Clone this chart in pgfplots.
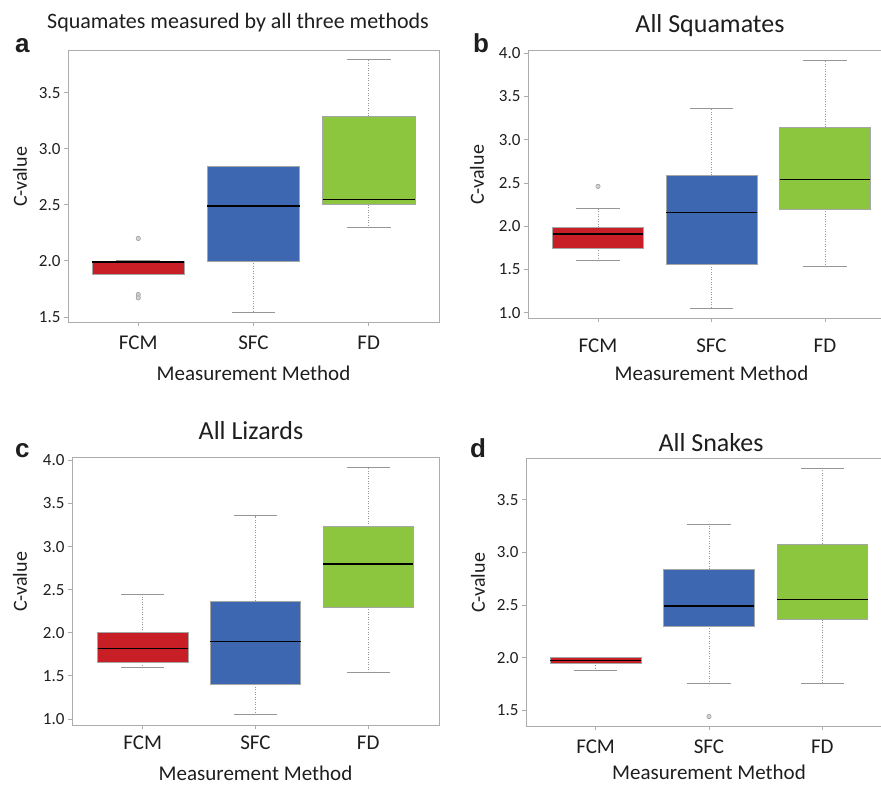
\documentclass[border=0pt]{standalone}
\usepackage{pgfplots}
\pgfplotsset{compat=1.18}
\usepgfplotslibrary{statistics}
\usepackage{fontspec}
\setmainfont{Carlito}
\newfontfamily\letterfont{Liberation Sans}
\definecolor{cRed}{RGB}{200,30,38}
\definecolor{cBlue}{RGB}{61,103,176}
\definecolor{cGreen}{RGB}{140,198,63}
\definecolor{frameGray}{RGB}{172,172,172}
\definecolor{whGray}{RGB}{150,150,150}
\definecolor{txt}{RGB}{30,30,30}

\pgfplotsset{
  panel/.style={
    scale only axis,
    axis line style={frameGray, line width=0.9pt},
    xtick={1,2,3}, xticklabels={FCM,SFC,FD},
    tick align=outside, xtick pos=bottom, ytick pos=left,
    major tick length=4pt,
    every tick/.style={frameGray, line width=0.8pt},
    /pgf/number format/assume math mode=true,
    /pgf/number format/fixed, /pgf/number format/fixed zerofill, /pgf/number format/precision=1,
    yticklabel style={font=\fontsize{17}{20}\selectfont, text=txt},
    xticklabel style={font=\fontsize{21}{25}\selectfont, text=txt},
    xlabel={Measurement Method}, ylabel={C-value},
    xlabel style={font=\fontsize{21}{25}\selectfont, text=txt, anchor=base},
    ylabel style={font=\fontsize{20}{24}\selectfont, text=txt, anchor=center},
    boxplot/draw direction=y,
  },
  bx/.style={
    mark=*, mark size=2.2pt, mark options={draw=whGray, fill=gray!35, line width=0.5pt},
    boxplot/box extend=0.8,
    boxplot/whisker extend=0.38,
    boxplot/every box/.style={draw=black!35, line width=0.6pt, fill=#1},
    boxplot/every median/.style={draw=black, line width=1.3pt},
    boxplot/draw/lower whisker/.code={
      \draw[whGray, line width=0.8pt, dash pattern=on 1pt off 1.5pt]
        (boxplot box cs:\pgfplotsboxplotvalue{lower quartile},0.5) --
        (boxplot box cs:\pgfplotsboxplotvalue{lower whisker},0.5);
      \draw[whGray, line width=0.9pt]
        (boxplot whisker cs:\pgfplotsboxplotvalue{lower whisker},0) --
        (boxplot whisker cs:\pgfplotsboxplotvalue{lower whisker},1);
    },
    boxplot/draw/upper whisker/.code={
      \draw[whGray, line width=0.8pt, dash pattern=on 1pt off 1.5pt]
        (boxplot box cs:\pgfplotsboxplotvalue{upper quartile},0.5) --
        (boxplot box cs:\pgfplotsboxplotvalue{upper whisker},0.5);
      \draw[whGray, line width=0.9pt]
        (boxplot whisker cs:\pgfplotsboxplotvalue{upper whisker},0) --
        (boxplot whisker cs:\pgfplotsboxplotvalue{upper whisker},1);
    },
  },
}

\begin{document}
\begin{tikzpicture}
\useasboundingbox (0,0) rectangle (881pt,785pt);
\clip (0,0) rectangle (881pt,785pt);

% ---------------- panel a
\begin{axis}[panel, at={(68pt,463pt)}, anchor=south west,
  width=371pt, height=272pt,
  xmin=0.39, xmax=3.61, ymin=1.455, ymax=3.88,
  ytick={1.5,2,2.5,3,3.5},
  xticklabel style={yshift=-6.5pt},
  xlabel style={at={([yshift=-59pt]axis description cs:0.5,0)}},
  ylabel style={at={([xshift=-48pt,yshift=9pt]axis description cs:0,0.5)}}]
\addplot[bx=cRed, boxplot prepared={draw position=1, lower whisker=1.88, lower quartile=1.88, median=1.99, upper quartile=2.0, upper whisker=2.0}]
  table[row sep=\\, y index=0] {data\\ 2.2\\ 1.70\\ 1.67\\};
\addplot[bx=cBlue, boxplot prepared={draw position=2, lower whisker=1.54, lower quartile=2.0, median=2.49, upper quartile=2.84, upper whisker=2.84}]
  coordinates {};
\addplot[bx=cGreen, boxplot prepared={draw position=3, lower whisker=2.30, lower quartile=2.50, median=2.55, upper quartile=3.29, upper whisker=3.80}]
  coordinates {};
\end{axis}

% ---------------- panel b
\begin{axis}[panel, at={(528pt,467pt)}, anchor=south west,
  width=367pt, height=268pt,
  xmin=0.383, xmax=3.617, ymin=0.94, ymax=4.035,
  ytick={1,1.5,2,2.5,3,3.5,4},
  xticklabel style={yshift=-13.5pt},
  xlabel style={at={([yshift=-63pt]axis description cs:0.5,0)}},
  ylabel style={at={([xshift=-51pt,yshift=9pt]axis description cs:0,0.5)}}]
\addplot[bx=cRed, boxplot prepared={draw position=1, lower whisker=1.60, lower quartile=1.75, median=1.91, upper quartile=1.99, upper whisker=2.20}]
  table[row sep=\\, y index=0] {data\\ 2.46\\};
\addplot[bx=cBlue, boxplot prepared={draw position=2, lower whisker=1.05, lower quartile=1.56, median=2.16, upper quartile=2.59, upper whisker=3.36}]
  coordinates {};
\addplot[bx=cGreen, boxplot prepared={draw position=3, lower whisker=1.54, lower quartile=2.20, median=2.54, upper quartile=3.14, upper whisker=3.92}]
  coordinates {};
\end{axis}

% ---------------- panel c
\begin{axis}[panel, at={(72pt,60pt)}, anchor=south west,
  width=367pt, height=268pt,
  xmin=0.372, xmax=3.628, ymin=0.93, ymax=4.04,
  ytick={1,1.5,2,2.5,3,3.5,4},
  xticklabel style={yshift=-3.5pt},
  xlabel style={at={([yshift=-55pt]axis description cs:0.5,0)}},
  ylabel style={at={([xshift=-52pt,yshift=9pt]axis description cs:0,0.5)}}]
\addplot[bx=cRed, boxplot prepared={draw position=1, lower whisker=1.60, lower quartile=1.66, median=1.82, upper quartile=2.0, upper whisker=2.45}]
  coordinates {};
\addplot[bx=cBlue, boxplot prepared={draw position=2, lower whisker=1.05, lower quartile=1.40, median=1.90, upper quartile=2.37, upper whisker=3.36}]
  coordinates {};
\addplot[bx=cGreen, boxplot prepared={draw position=3, lower whisker=1.54, lower quartile=2.30, median=2.80, upper quartile=3.23, upper whisker=3.92}]
  coordinates {};
\end{axis}

% ---------------- panel d
\begin{axis}[panel, at={(526pt,59pt)}, anchor=south west,
  width=366pt, height=268pt,
  xmin=0.386, xmax=3.614, ymin=1.35, ymax=3.895,
  ytick={1.5,2,2.5,3,3.5},
  xticklabel style={yshift=-6.5pt},
  xlabel style={at={([yshift=-53pt]axis description cs:0.5,0)}},
  ylabel style={at={([xshift=-48pt,yshift=9pt]axis description cs:0,0.5)}}]
\addplot[bx=cRed, boxplot prepared={draw position=1, lower whisker=1.88, lower quartile=1.95, median=1.97, upper quartile=2.0, upper whisker=2.0}]
  coordinates {};
\addplot[bx=cBlue, boxplot prepared={draw position=2, lower whisker=1.75, lower quartile=2.30, median=2.49, upper quartile=2.84, upper whisker=3.26}]
  table[row sep=\\, y index=0] {data\\ 1.44\\};
\addplot[bx=cGreen, boxplot prepared={draw position=3, lower whisker=1.75, lower quartile=2.36, median=2.55, upper quartile=3.08, upper whisker=3.80}]
  coordinates {};
\end{axis}

% titles
\node[anchor=base, inner sep=0, text=txt, font=\fontsize{22}{26}\selectfont] at (238pt,756pt) {Squamates measured by all three methods};
\node[anchor=base, inner sep=0, text=txt, font=\fontsize{26}{30}\selectfont] at (710pt,752pt) {All Squamates};
\node[anchor=base, inner sep=0, text=txt, font=\fontsize{26}{30}\selectfont] at (251pt,345pt) {All Lizards};
\node[anchor=base, inner sep=0, text=txt, font=\fontsize{26}{30}\selectfont] at (711pt,333pt) {All Snakes};
% panel letters
\node[anchor=base west, inner sep=0, text=txt, font=\letterfont\bfseries\fontsize{26}{30}\selectfont] at (15pt,732pt) {a};
\node[anchor=base west, inner sep=0, text=txt, font=\letterfont\bfseries\fontsize{26}{30}\selectfont] at (473pt,732pt) {b};
\node[anchor=base west, inner sep=0, text=txt, font=\letterfont\bfseries\fontsize{26}{30}\selectfont] at (15pt,327pt) {c};
\node[anchor=base west, inner sep=0, text=txt, font=\letterfont\bfseries\fontsize{26}{30}\selectfont] at (470pt,327pt) {d};
\end{tikzpicture}
\end{document}
